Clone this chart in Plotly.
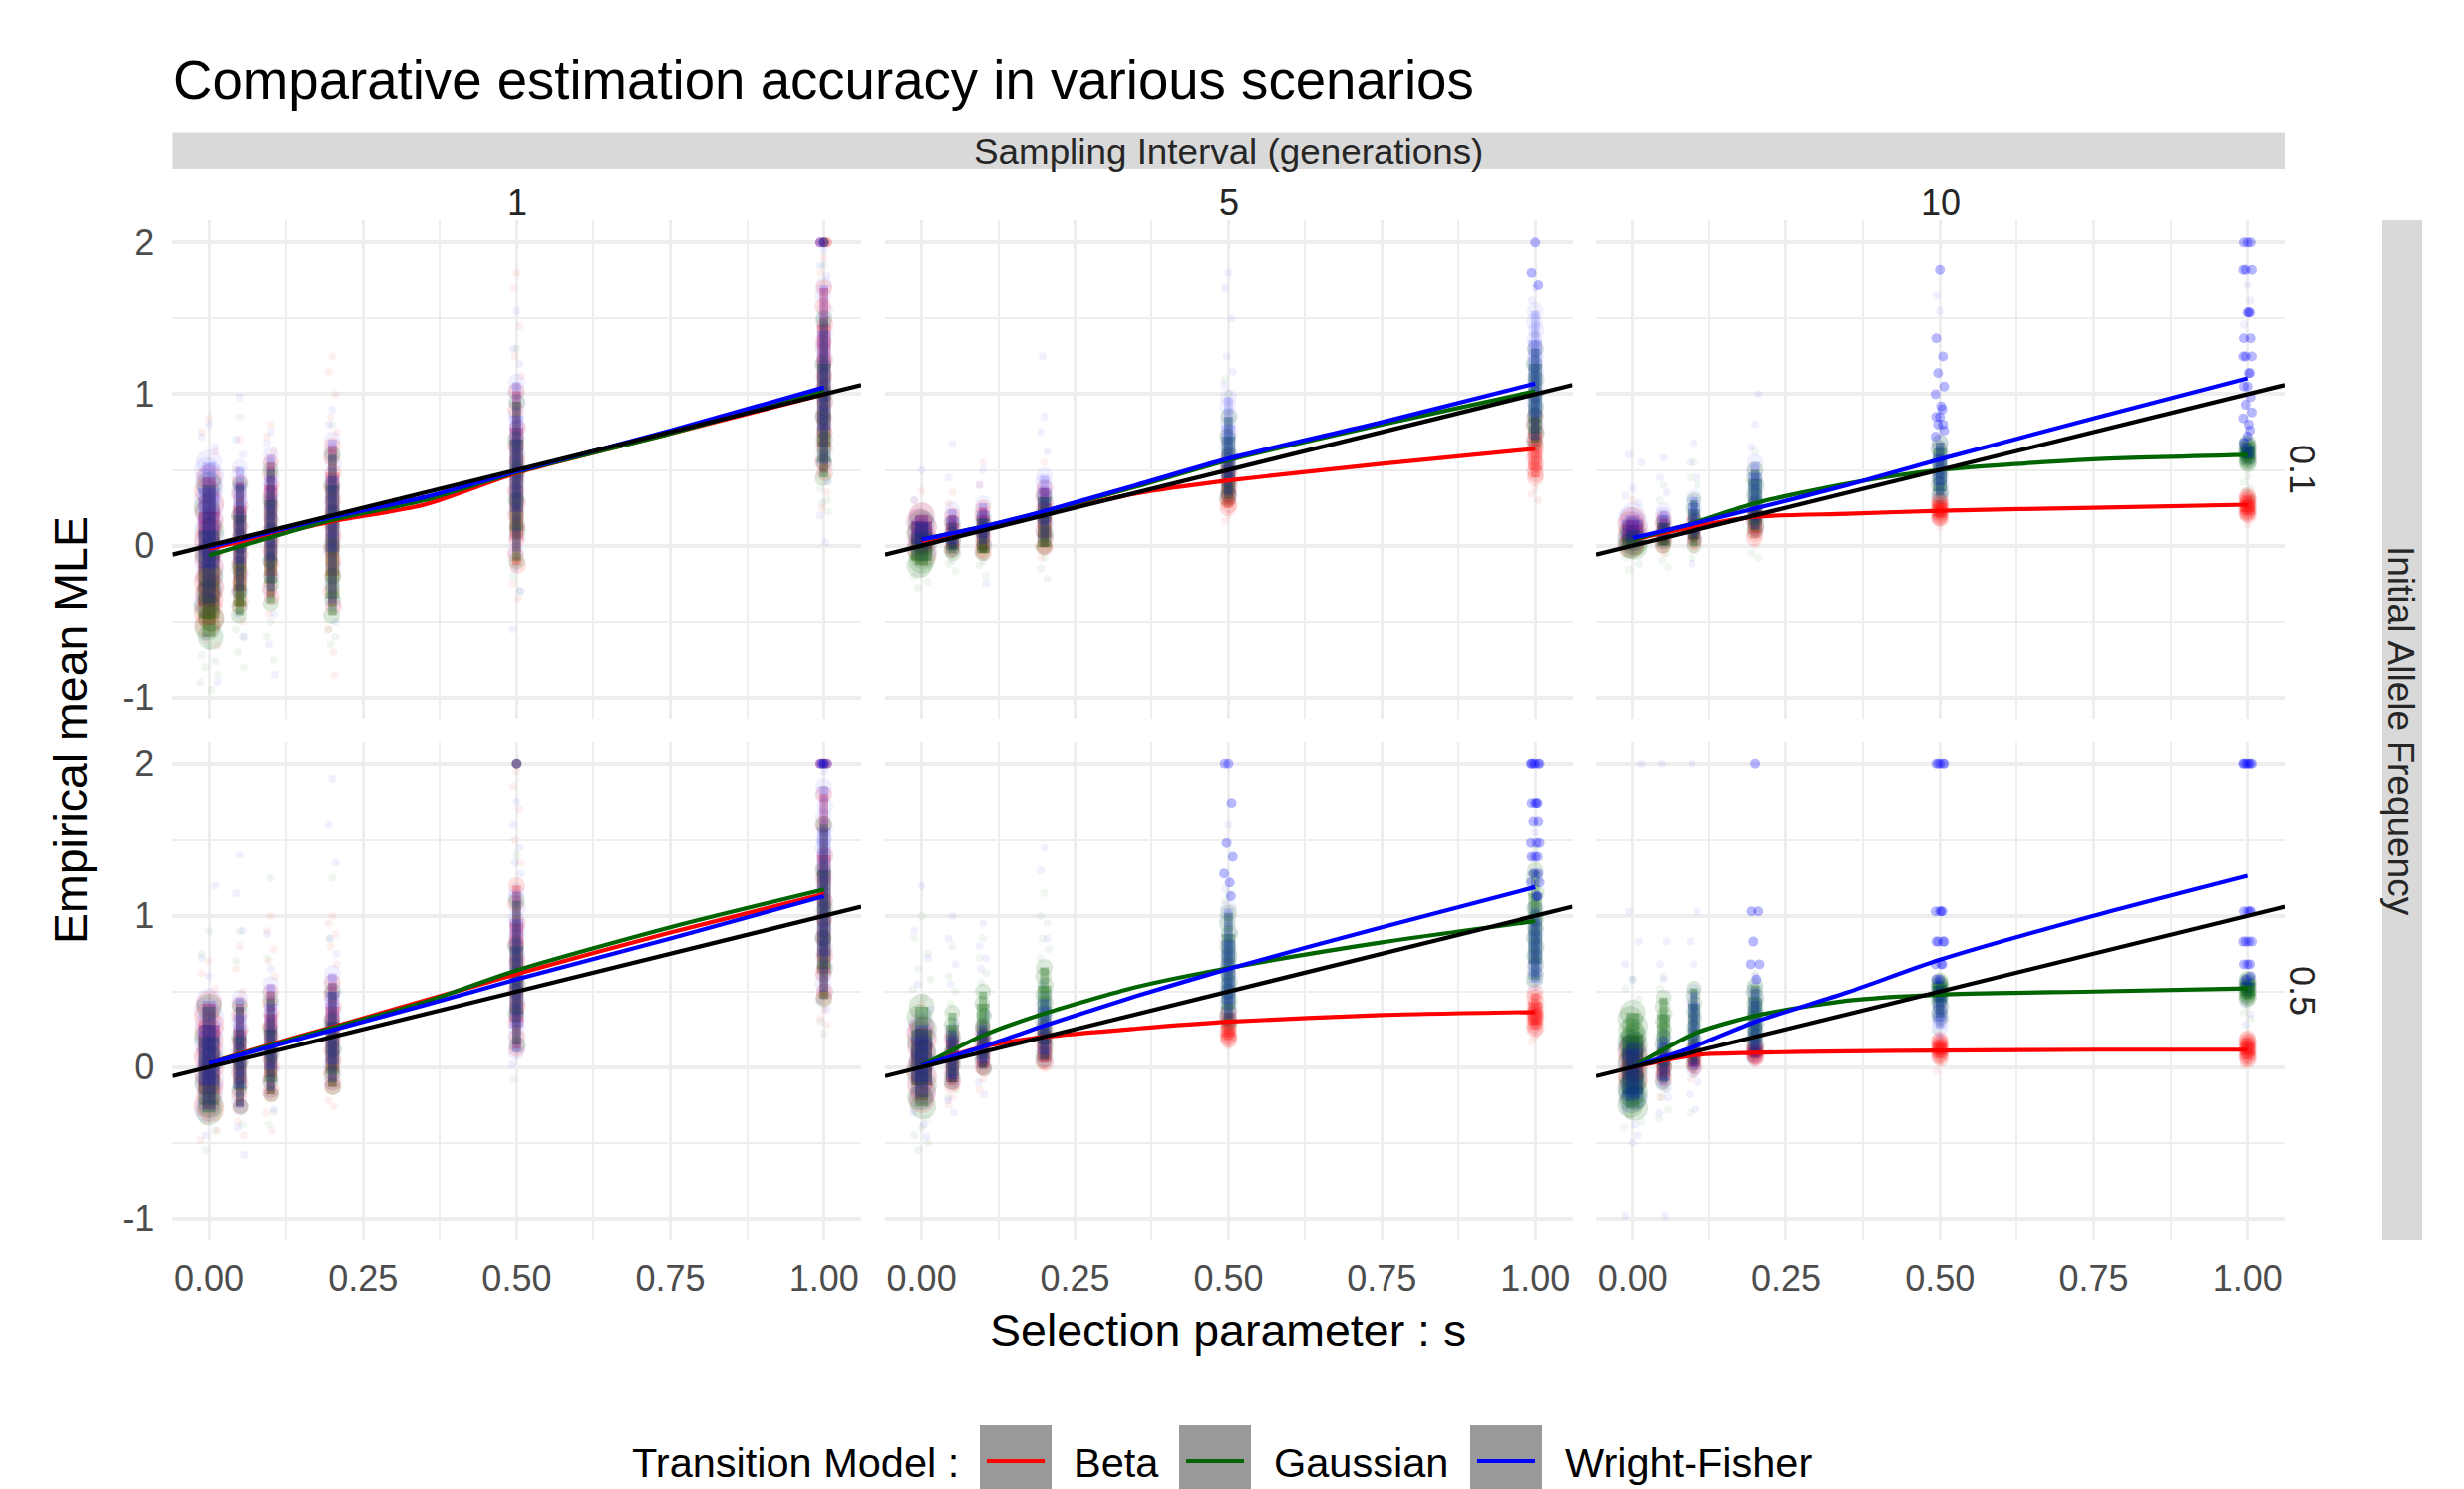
import plotly.graph_objects as go

# ---------- categories and labels ----------
S_VALUES = [0, 0.05, 0.1, 0.2, 0.5, 1]
CURVE_S = [0, 0.1, 0.2, 0.35, 0.5, 0.75, 1]
SAMPLING = ["1", "5", "10"]
ALLELE = ["0.1", "0.5"]
MODELS = ["Beta", "Gaussian", "Wright-Fisher"]
COLORS = ["#ff0000", "#006400", "#0000ff"]
X_TICKS = [0, 0.25, 0.5, 0.75, 1]
X_TICK_TEXT = ["0.00", "0.25", "0.50", "0.75", "1.00"]
X_MINOR = [0.125, 0.375, 0.625, 0.875]
Y_TICKS = [-1, 0, 1, 2]
Y_TICK_TEXT = ["-1", "0", "1", "2"]
Y_MINOR = [-0.5, 0.5, 1.5]
IDENTITY = [-0.0595, 1.0605]

# ---------- fitted curves, read at CURVE_S ----------
CURVE_BETA_11 = [-0.02, 0.07, 0.16, 0.27, 0.48, 0.74, 1.0]
CURVE_GAUSS_11 = [-0.065, 0.055, 0.17, 0.30, 0.485, 0.74, 1.02]
CURVE_WF_11 = [-0.01, 0.09, 0.19, 0.32, 0.49, 0.76, 1.045]
CURVE_BETA_12 = [0.03, 0.11, 0.21, 0.345, 0.43, 0.54, 0.64]
CURVE_GAUSS_12 = [0.04, 0.125, 0.225, 0.39, 0.565, 0.80, 1.02]
CURVE_WF_12 = [0.04, 0.125, 0.228, 0.40, 0.575, 0.815, 1.07]
CURVE_BETA_13 = [0.04, 0.125, 0.19, 0.21, 0.23, 0.25, 0.27]
CURVE_GAUSS_13 = [0.04, 0.15, 0.28, 0.41, 0.50, 0.57, 0.60]
CURVE_WF_13 = [0.05, 0.145, 0.245, 0.40, 0.57, 0.84, 1.105]
CURVE_BETA_21 = [0.025, 0.15, 0.265, 0.44, 0.615, 0.89, 1.145]
CURVE_GAUSS_21 = [0.025, 0.145, 0.26, 0.43, 0.64, 0.925, 1.175]
CURVE_WF_21 = [0.025, 0.135, 0.245, 0.41, 0.58, 0.85, 1.13]
CURVE_BETA_22 = [0.01, 0.135, 0.20, 0.255, 0.30, 0.345, 0.365]
CURVE_GAUSS_22 = [0.01, 0.21, 0.355, 0.53, 0.655, 0.825, 0.965]
CURVE_WF_22 = [0.01, 0.135, 0.275, 0.47, 0.65, 0.925, 1.19]
CURVE_BETA_23 = [0.0, 0.08, 0.095, 0.105, 0.11, 0.115, 0.115]
CURVE_GAUSS_23 = [0.0, 0.22, 0.34, 0.44, 0.48, 0.50, 0.52]
CURVE_WF_23 = [0.0, 0.135, 0.30, 0.495, 0.71, 1.0, 1.265]

# ---------- estimates, read per s: dense part, sparse part, discrete repeated levels ----------
BETA_11 = [[.45,.36,.28,.22,.16,.1,.04,-.02,-.08,-.14,-.2,-.24,-.28,-.32,-.36,-.4,-.44,-.48,-.52],
           [.42,.34,.26,.2,.13,.06,0,-.06,-.12,-.18,-.24,-.3,-.36,-.4],
           [.55,.47,.4,.34,.26,.18,.1,.03,-.04,-.12,-.2,-.28,-.34],
           [.66,.58,.48,.38,.3,.22,.14,.06,-.02,-.1,-.2,-.3,-.4],
           [1.02,.9,.78,.66,.56,.46,.36,.28,.2,.12,.04,-.06,-.13],
           [1.7,1.58,1.46,1.34,1.22,1.12,1.03,.95,.85,.75,.65,.55,.48]]
GAUSS_11 = [[.4,.25,.1,-.05,-.2,-.3,-.4,-.48,-.54,-.6],
            [.4,.2,0,-.15,-.3,-.4,-.46],
            [.5,.3,.1,-.1,-.25,-.38],
            [.6,.4,.2,0,-.2,-.35,-.46],
            [.95,.7,.5,.3,.1,-.1],
            [1.5,1.2,1,.85,.7,.55,.45]]
WF_11 = [[.55,.5,.46,.42,.38,.34,.3,.26,.22,.18,.14,.1,.06,.02,-.02,-.06,-.1,-.15,-.2,-.26,-.32,-.38],
         [.52,.46,.41,.36,.3,.24,.18,.12,.06,0,-.06,-.12,-.2,-.3],
         [.6,.53,.46,.4,.34,.28,.22,.16,.1,.04,-.02,-.1,-.2,-.3],
         [.7,.62,.54,.46,.4,.34,.28,.22,.16,.1,.04,-.04,-.14,-.26,-.38],
         [1.08,1.02,.94,.86,.78,.72,.66,.6,.54,.48,.42,.36,.3,.22,.14,.06,-.04],
         [1.72,1.65,1.55,1.48,1.42,1.36,1.3,1.24,1.18,1.12,1.06,1,.94,.88,.82,.76,.7,.64,.58,.54]]
BETA_TAIL_11 = [[.84,.75,.62,-.62,-.66],[.7,.5,-.5],[.8,.72,.62,-.45],[1.25,1.15,1.0,.85,.75,-.55,-.7,-.85],[1.8,1.7,1.45,1.25,1.12,-.25,-.35],[1.9,1.8,.35,.25]]
GAUSS_TAIL_11 = [[-.66,-.72,-.76,-.8,-.85,-.9,-.95],[.85,-.55,-.6,-.7,-.8],[-.5,-.6,-.75],[.8,-.55,-.6,-.65],[1.3,-.2,-.3],[1.85,.38,.3,.28,.22]]
WF_TAIL_11 = [[.8,.72,.65,-.6,-.9],[.98,.7,.6,-.45,-.6],[.75,.68,-.45,-.65,-.85],[.9,.8,-.5],[1.55,1.3,1.2,-.15,-.3,-.55],[1.95,1.85,1.78,.48,.42,.2,.02]]
LEVEL_BETA_11 = [[],[],[],[],[],[2,2,2]]
LEVEL_GAUSS_11 = [[],[],[],[],[],[2]]
LEVEL_WF_11 = [[],[],[],[],[],[2,2]]

BETA_12 = [[.2,.16,.12,.08,.05,.02,-.02,-.05],
           [.2,.15,.11,.07,.03,-.01,-.03],
           [.25,.2,.15,.1,.06,.02,-.03,-.05],
           [.38,.33,.28,.24,.2,.15,.1,.05,0,-.01],
           [.58,.53,.48,.43,.38,.34,.3,.27,.25],
           [.85,.8,.75,.7,.66,.62,.58,.54,.5,.47,.45]]
GAUSS_12 = [[.15,.08,.02,-.03,-.07,-.1,-.13],
            [.15,.08,.03,-.03,-.05],
            [.18,.1,0,-.05],
            [.32,.2,.08,-.01],
            [.85,.72,.6,.5,.42,.34,.31],
            [1.3,1.2,1.1,1,.92,.86,.8,.74,.68]]
WF_12 = [[.2,.16,.13,.1,.07,.04,.01,-.02],
         [.24,.19,.15,.12,.08,.05,.01,-.02],
         [.28,.23,.19,.15,.12,.08,.05,.01],
         [.46,.42,.38,.34,.29,.24,.19,.14,.09,.05],
         [.98,.92,.86,.8,.75,.7,.65,.6,.56,.52,.48,.44,.4,.36,.33],
         [1.55,1.48,1.42,1.36,1.3,1.25,1.2,1.15,1.1,1.05,1,.95,.9,.85,.8,.75,.7]]
BETA_TAIL_12 = [[.36,.3],[.35,.28],[.55,.4],[.55,-.08],[.2,.16],[.38,.34,.3]]
GAUSS_TAIL_12 = [[-.18,-.2,-.24,-.28],[-.1,-.12,-.17],[-.1,-.13,-.2],[-.08,-.15,-.22],[1.0,1.1],[1.4]]
WF_TAIL_12 = [[.5,.3],[.67,.45],[.5,.4,-.25],[.85,.75,.62,1.25],[1.8,1.7,1.5,1.25,1.15,1.06],[1.7,1.62]]
LEVEL_BETA_12 = [[],[],[],[],[],[]]
LEVEL_GAUSS_12 = [[],[],[],[],[],[]]
LEVEL_WF_12 = [[],[],[],[],[],[2,1.8,1.72]]

BETA_13 = [[.17,.14,.11,.08,.05,.02,0],
           [.18,.15,.12,.09,.05,.02,0],
           [.18,.15,.12,.08,.04,.02],
           [.26,.23,.2,.16,.12,.08,.05],
           [.3,.29,.28,.27,.26,.25,.24,.23,.22,.21,.2,.19,.18,.18],
           [.33,.32,.31,.3,.29,.28,.27,.26,.25,.24,.23,.22,.22,.21,.2]]
GAUSS_13 = [[.1,.05,.02,0,-.01],
            [.15,.08,.03,0],
            [.3,.24,.17,.1,.04,0],
            [.5,.44,.39,.33,.28,.23,.18,.14,.1],
            [.68,.64,.6,.55,.5,.45,.4,.36,.33],
            [.68,.67,.66,.65,.64,.63,.62,.61,.6,.59,.58,.57,.56,.55,.54]]
WF_13 = [[.2,.17,.14,.11,.08,.05,.03],
         [.23,.2,.17,.13,.09,.05,.03],
         [.32,.28,.24,.2,.16,.12,.08,.05],
         [.55,.48,.42,.35,.28,.22,.16,.11],
         [.68,.64,.6,.56,.52,.48,.44,.4,.36,.33],
         [.66,.62,.58]]
BETA_TAIL_13 = [[.3],[-.05],[-.03],[0],[.12],[.14]]
GAUSS_TAIL_13 = [[-.05,-.08,-.12,-.16],[.4,.3,-.05,-.1,-.14],[.55,.45,.4,-.08],[.62,-.05,-.08],[.78],[.46,.42,.38,.36,.32]]
WF_TAIL_13 = [[.38,.33,.28,.6,.55],[.58,.45,.35],[.68,.55,.45,-.12],[.8,.65,1],[1.55,1.65],[1.72,1.46,1.62]]
LEVEL_BETA_13 = [[],[],[],[],[],[]]
LEVEL_GAUSS_13 = [[],[],[],[],[],[]]
LEVEL_WF_13 = [[],[],[],[],
               [1.82,1.37,1.25,1.14,1.05,1,.92,.9,.85,.85,.8,.8,.76,.72],
               [2,2,2,1.82,1.82,1.82,1.54,1.54,1.54,1.37,1.37,1.25,1.25,1.25,1.14,1.14,1.05,1.05,.98,.93,.88,.84,.8,.76,.72,.68]]

BETA_21 = [[.42,.34,.28,.24,.18,.12,.06,0,-.06,-.12,-.18,-.25,-.28],
           [.42,.34,.25,.17,.1,.03,-.04,-.11,-.18,-.26],
           [.5,.42,.35,.27,.2,.13,.06,0,-.07,-.15,-.18],
           [.56,.48,.4,.32,.25,.18,.11,.04,-.03,-.1,-.13],
           [1.2,1.08,.95,.82,.7,.6,.5,.4,.3,.2,.12],
           [1.8,1.6,1.4,1.25,1.1,.98,.86,.74,.62,.5,.46]]
GAUSS_21 = [[.4,.2,.05,-.1,-.25,-.3],
            [.4,.2,.03,-.15,-.26],
            [.45,.25,.08,-.1,-.18],
            [.5,.3,.12,-.05,-.13],
            [1.1,.8,.55,.35,.15],
            [1.6,1.3,1.05,.85,.65,.45]]
WF_21 = [[.44,.38,.33,.28,.24,.2,.16,.12,.08,.04,0,-.04,-.08,-.12,-.16,-.22,-.28],
         [.46,.41,.35,.29,.23,.17,.11,.05,-.01,-.07,-.14,-.22,-.27],
         [.55,.49,.42,.35,.28,.22,.16,.1,.04,-.02,-.09,-.16],
         [.62,.56,.5,.44,.38,.32,.27,.22,.17,.12,.07,.02,-.04,-.1],
         [1.16,1.12,1.05,.98,.92,.86,.8,.74,.68,.62,.56,.5,.44,.38,.32,.26,.2,.14,.1],
         [1.85,1.8,1.72,1.65,1.58,1.51,1.45,1.39,1.33,1.27,1.21,1.15,1.09,1.03,.97,.91,.85,.79,.73,.67,.61,.55,.5]]
BETA_TAIL_21 = [[.7,.62,.52,-.36,-.42,-.48],[.8,.65,.5,-.36,-.45],[1.0,.9,.78,.7,.6,-.3,-.42],[1.0,.95,.88,.8,.68,-.22,-.26],[1.95,1.85,1.7,1.5,1.35],[.38,.32,.28]]
GAUSS_TAIL_21 = [[.9,.75,-.42,-.55],[.9,.7,-.38],[1.25,.72,-.3,-.38],[1.25,.85],[1.4,-.08],[.22,.3]]
WF_TAIL_21 = [[.6,.72,1.2,-.45],[1.4,1.15,.9,-.4,-.58],[.65,.88,-.28],[1.9,1.6,1.35,.85,.75],[1.75,1.6,1.45,1.35,1.28,.02],[1.95,.44,.38]]
LEVEL_BETA_21 = [[],[],[],[],[2],[2,2,2]]
LEVEL_GAUSS_21 = [[],[],[],[],[2],[2]]
LEVEL_WF_21 = [[],[],[],[],[2],[2,2,2,2]]

BETA_22 = [[.26,.22,.18,.13,.08,.03,-.02,-.07,-.12,-.17,-.22],
           [.22,.18,.15,.1,.05,0,-.05,-.1,-.12],
           [.26,.22,.18,.15,.1,.05,0,-.01],
           [.26,.23,.2,.16,.12,.08,.04,.03],
           [.36,.33,.31,.29,.27,.25,.23,.21,.2,.19,.18],
           [.49,.46,.43,.4,.38,.36,.35,.34,.33,.32,.3,.28,.26,.25]]
GAUSS_22 = [[.4,.33,.25,.17,.1,.03,-.04,-.12,-.2,-.26],
            [.36,.28,.2,.1,.02,-.06,-.1],
            [.5,.42,.34,.27,.2,.12,.05,-.01],
            [.66,.6,.54,.48,.42,.36,.3,.25,.2,.15,.1,.05],
            [1.02,.95,.88,.8,.74,.68,.62,.56,.5,.44,.38,.33,.3],
            [1.3,1.25,1.15,1.05,.98,.92,.86,.8,.74,.68,.62,.58]]
WF_22 = [[.28,.24,.2,.15,.1,.05,0,-.05,-.1,-.16,-.2],
         [.24,.2,.17,.12,.07,.02,-.03,-.08,-.1],
         [.28,.24,.2,.16,.12,.07,.03,0],
         [.45,.4,.34,.27,.2,.14,.08,.05],
         [1.05,.98,.9,.84,.78,.72,.66,.6,.54,.5,.46,.42,.38,.35,.32],
         [1.05,.98,.9,.84,.78,.72,.66,.6,.56]]
BETA_TAIL_22 = [[.42,.36],[-.2,-.25],[-.08,-.15],[-.01],[.14],[.2,.17]]
GAUSS_TAIL_22 = [[1.0,.85,.75,.65,.58,.52,.46,-.34,-.4,-.45,-.5,-.55],[.8,.6,.5,.42,-.15,-.2],[.85,.72,.62,.56],[1.15,1.0,.95,.85,.78,.72],[1.15,1.1],[1.45,1.38]]
WF_TAIL_22 = [[1.2,.9,.72,.55,.38,-.3,-.38,-.46],[1.0,.85,.68,.55,.3,-.22,-.3],[.95,.8,.72,.65,.35,-.1,-.18],[1.45,1.3,.85,.55],[1.6,1.18],[1.55]]
LEVEL_BETA_22 = [[],[],[],[],[],[]]
LEVEL_GAUSS_22 = [[],[],[],[],[],[]]
LEVEL_WF_22 = [[],[],[],[],[2,2,1.74,1.48,1.39,1.28,1.22,1.13],
               [2,2,2,2,2,2,1.74,1.74,1.74,1.74,1.62,1.62,1.48,1.48,1.48,1.39,1.39,1.39,1.28,1.28,1.22,1.22,1.13,1.13]]

BETA_23 = [[.14,.1,.07,.04,.01,-.02,-.05,-.08,-.1],
           [.1,.07,.04,.02,0,-.03,-.06,-.08],
           [.13,.11,.09,.07,.05,.03,.01,0],
           [.14,.13,.12,.11,.1,.09,.08,.07,.07,.06],
           [.18,.17,.16,.15,.14,.13,.12,.11,.1,.09,.08,.07,.06],
           [.19,.18,.17,.16,.15,.14,.13,.12,.11,.1,.09,.08,.07,.06,.05]]
GAUSS_23 = [[.36,.32,.27,.24,.21,.19,.17,.15,.13,.1,.07,.03,-.02,-.07,-.1,-.12,-.14,-.16,-.18,-.2,-.22,-.25,-.27],
            [.46,.4,.35,.3,.25,.2,.15,.1,.05,0,-.05,-.1],
            [.52,.47,.42,.37,.32,.27,.22,.18,.14,.1,.06,.02],
            [.54,.5,.46,.42,.38,.35,.32,.29,.26,.23,.2,.17,.14,.11],
            [.57,.56,.55,.54,.53,.52,.51,.5,.49,.47,.45,.43,.4,.36,.33],
            [.58,.57,.56,.55,.54,.53,.52,.51,.5,.49,.48,.47,.46,.45]]
WF_23 = [[.16,.12,.08,.02,-.04,-.1,-.15,-.2,-.22],
         [.2,.16,.12,.06,.01,-.04,-.09,-.12],
         [.5,.43,.35,.26,.18,.11,.05,0,-.02],
         [.52,.48,.44,.36,.3,.25,.2,.16,.13,.11,.08,.06],
         [.54,.52,.48,.44,.4,.36,.32,.3,.26],
         [.56,.54]]
BETA_TAIL_23 = [[-.15,-.2],[-.13,-.2],[-.05,-.08],[.02],[.02,-.03],[.02,.01]]
GAUSS_TAIL_23 = [[.58,.52,.45,-.32,-.36,-.4],[.6,.52,-.15,-.2,-.28,-.34],[-.05,-.3],[.62,.05],[.28,.24],[.4,.36,.32]]
WF_TAIL_23 = [[.58,.68,.83,1.03,2,-.28,-.38,-.45,-.5,-.98],[.58,.68,.83,2,-.2,-.3,-.98],[.68,.83,1.03,2,-.1,-.18,-.28],[.6],[.2],[.48,.42,.35,.28]]
LEVEL_BETA_23 = [[],[],[],[],[],[]]
LEVEL_GAUSS_23 = [[],[],[],[],[],[]]
LEVEL_WF_23 = [[],[],[],[2,1.03,1.03,.83,.68,.68,.58],
               [2,2,2,2,2,1.03,1.03,1.03,1.03,.83,.83,.83,.83,.68,.68,.68,.58,.58],
               [2,2,2,2,2,2,2,1.03,1.03,1.03,1.03,.83,.83,.83,.83,.68,.68,.68,.6,.58]]

CLOUDS = {(0, 0): (BETA_11, GAUSS_11, WF_11), (0, 1): (BETA_12, GAUSS_12, WF_12), (0, 2): (BETA_13, GAUSS_13, WF_13),
          (1, 0): (BETA_21, GAUSS_21, WF_21), (1, 1): (BETA_22, GAUSS_22, WF_22), (1, 2): (BETA_23, GAUSS_23, WF_23)}
TAILS = {(0, 0): (BETA_TAIL_11, GAUSS_TAIL_11, WF_TAIL_11), (0, 1): (BETA_TAIL_12, GAUSS_TAIL_12, WF_TAIL_12),
         (0, 2): (BETA_TAIL_13, GAUSS_TAIL_13, WF_TAIL_13), (1, 0): (BETA_TAIL_21, GAUSS_TAIL_21, WF_TAIL_21),
         (1, 1): (BETA_TAIL_22, GAUSS_TAIL_22, WF_TAIL_22), (1, 2): (BETA_TAIL_23, GAUSS_TAIL_23, WF_TAIL_23)}
LEVELS = {(0, 0): (LEVEL_BETA_11, LEVEL_GAUSS_11, LEVEL_WF_11), (0, 1): (LEVEL_BETA_12, LEVEL_GAUSS_12, LEVEL_WF_12),
          (0, 2): (LEVEL_BETA_13, LEVEL_GAUSS_13, LEVEL_WF_13), (1, 0): (LEVEL_BETA_21, LEVEL_GAUSS_21, LEVEL_WF_21),
          (1, 1): (LEVEL_BETA_22, LEVEL_GAUSS_22, LEVEL_WF_22), (1, 2): (LEVEL_BETA_23, LEVEL_GAUSS_23, LEVEL_WF_23)}
CURVES = {(0, 0): (CURVE_BETA_11, CURVE_GAUSS_11, CURVE_WF_11), (0, 1): (CURVE_BETA_12, CURVE_GAUSS_12, CURVE_WF_12),
          (0, 2): (CURVE_BETA_13, CURVE_GAUSS_13, CURVE_WF_13), (1, 0): (CURVE_BETA_21, CURVE_GAUSS_21, CURVE_WF_21),
          (1, 1): (CURVE_BETA_22, CURVE_GAUSS_22, CURVE_WF_22), (1, 2): (CURVE_BETA_23, CURVE_GAUSS_23, CURVE_WF_23)}

# ---------- presentation ----------
W, H = 2472, 1494
COL_PX = [(173.4, 864), (888, 1577.5), (1601, 2292)]
ROW_PX = [(221, 721), (744, 1244)]
Y_RANGES = [[-1.14, 2.147], [-1.14, 2.15]]
JITTER = [0, -0.006, 0.005, -0.003, 0.007, -0.007, 0.002, 0.004]
CORE_JITTER = [0, -0.0015, 0.0015, -0.001, 0.001]
CORE_SPREAD = [2.5, 1, 1, 1, 1, 1]
CORE_SIZE = [26, 16, 16, 17, 17, 17]
TAIL_SIZE = [8, 8, 8, 8, 8, 8]
LEVEL_SIZE = [10, 10, 10, 10, 10, 10]
BAND_ALPHA = [0.26, 0.3, 0.15]
CORE_ALPHA = [0.12, 0.14, 0.06]
FONT = "Liberation Sans"
GRID = "#eeeeee"

fig = go.Figure()
layout = {}


def px(x):
    return x / W


def py(y):
    return 1 - y / H


for r in range(2):
    for c in range(3):
        idx = r * 3 + c + 1
        suffix = "" if idx == 1 else str(idx)
        xa, ya = "x" + suffix, "y" + suffix
        layout["xaxis" + suffix] = dict(
            domain=[px(COL_PX[c][0]), px(COL_PX[c][1])], range=IDENTITY, anchor=ya,
            tickvals=X_TICKS, ticktext=X_TICK_TEXT, showticklabels=r == 1, ticks="",
            showgrid=True, gridcolor=GRID, gridwidth=3, zeroline=False, showline=False,
            minor=dict(tickvals=X_MINOR, showgrid=True, gridcolor=GRID, gridwidth=2, ticks=""),
            tickfont=dict(family=FONT, size=36, color="#4d4d4d"), ticklabelstandoff=14)
        layout["yaxis" + suffix] = dict(
            domain=[py(ROW_PX[r][1]), py(ROW_PX[r][0])], range=Y_RANGES[r], anchor=xa,
            tickvals=Y_TICKS, ticktext=Y_TICK_TEXT, showticklabels=c == 0, ticks="",
            showgrid=True, gridcolor=GRID, gridwidth=4, zeroline=False, showline=False,
            minor=dict(tickvals=Y_MINOR, showgrid=True, gridcolor=GRID, gridwidth=2, ticks=""),
            tickfont=dict(family=FONT, size=36, color="#4d4d4d"), ticklabelstandoff=18)
        for m in range(3):
            # continuous spindle behind each dense cloud, running through its read values
            for k, s in enumerate(S_VALUES):
                vals = CLOUDS[(r, c)][m][k]
                n = len(vals)
                if n < 2:
                    continue
                for part, frac in ((vals, 0.5), (vals[n // 5: n - n // 5], 0.8)):
                    if len(part) < 2:
                        continue
                    fig.add_trace(go.Scatter(
                        x=[s] * len(part), y=part, xaxis=xa, yaxis=ya, mode="lines",
                        showlegend=False, hoverinfo="skip", opacity=BAND_ALPHA[m],
                        line=dict(color=COLORS[m], width=CORE_SIZE[k] * frac)))
            groups = ((TAILS, 0.06, TAIL_SIZE, JITTER, [2, 1, 1, 1, 1, 1]),
                      (CLOUDS, CORE_ALPHA[m], CORE_SIZE, CORE_JITTER, CORE_SPREAD),
                      (LEVELS, 0.28, LEVEL_SIZE, JITTER, [1, 1, 1, 1, 1, 1]))
            for group, alpha, size, jit, spread in groups:
                xs, ys, sizes = [], [], []
                for k, s in enumerate(S_VALUES):
                    for n, v in enumerate(group[(r, c)][m][k]):
                        xs.append(s + jit[n % len(jit)] * spread[k])
                        ys.append(v)
                        sizes.append(size[k])
                fig.add_trace(go.Scatter(
                    x=xs, y=ys, xaxis=xa, yaxis=ya, mode="markers", showlegend=False,
                    hoverinfo="skip",
                    marker=dict(color=COLORS[m], size=sizes, opacity=alpha, line=dict(width=0))))
        for m in range(3):
            fig.add_trace(go.Scatter(
                x=CURVE_S, y=CURVES[(r, c)][m], xaxis=xa, yaxis=ya, mode="lines", name=MODELS[m],
                showlegend=False, line=dict(color=COLORS[m], width=4.2, shape="spline", smoothing=0.7)))
        fig.add_trace(go.Scatter(
            x=IDENTITY, y=IDENTITY, xaxis=xa, yaxis=ya, mode="lines", showlegend=False,
            line=dict(color="#000000", width=4.2)))

shapes = []
annotations = []


def rect(x0, y0, x1, y1, color):
    shapes.append(dict(type="rect", xref="paper", yref="paper", x0=px(x0), x1=px(x1),
                       y0=py(y1), y1=py(y0), fillcolor=color, line=dict(width=0), layer="below"))


def text(t, x, y, size, color="#000000", anchor="center", angle=0):
    annotations.append(dict(text=t, xref="paper", yref="paper", x=px(x), y=py(y), xanchor=anchor,
                            yanchor="middle", showarrow=False, textangle=angle,
                            font=dict(family=FONT, size=size, color=color)))


rect(173.4, 132.5, 2292, 170, "#d9d9d9")
rect(2390, 221, 2430, 1244, "#d9d9d9")
text("Comparative estimation accuracy in various scenarios", 172, 80, 54.6, anchor="left")
text("Sampling Interval (generations)", 1232, 152, 36.8, color="#262626")
text("Initial Allele Frequency", 2409, 733, 37, color="#262626", angle=90)
for c, label in enumerate(SAMPLING):
    text(label, (COL_PX[c][0] + COL_PX[c][1]) / 2, 203, 36, color="#262626")
for r, label in enumerate(ALLELE):
    text(label, 2309, (ROW_PX[r][0] + ROW_PX[r][1]) / 2, 36, color="#262626", angle=90)
text("Selection parameter : s", 1232, 1335, 46.5)
text("Empirical mean MLE", 71, 733, 46.5, angle=-90)
text("Transition Model :", 632, 1467, 41.5, anchor="left")
KEY_PX = [(983, 1055, 1075), (1183, 1255, 1276), (1475, 1547, 1568)]
for m, (x0, x1, xt) in enumerate(KEY_PX):
    rect(x0, 1430, x1, 1500, "#999999")
    shapes.append(dict(type="line", xref="paper", yref="paper", x0=px(x0 + 7), x1=px(x1 - 7),
                       y0=py(1466), y1=py(1466), line=dict(color=COLORS[m], width=4)))
    text(MODELS[m], xt, 1467, 41.5, anchor="left")

fig.update_layout(width=W, height=H, margin=dict(l=0, r=0, t=0, b=0), autosize=False,
                  paper_bgcolor="#ffffff", plot_bgcolor="#ffffff", shapes=shapes,
                  annotations=annotations, showlegend=False, **layout)
fig.write_html("out.html", config={"displayModeBar": False},
               post_script="document.body.style.margin='0';document.documentElement.style.overflow='hidden';")
